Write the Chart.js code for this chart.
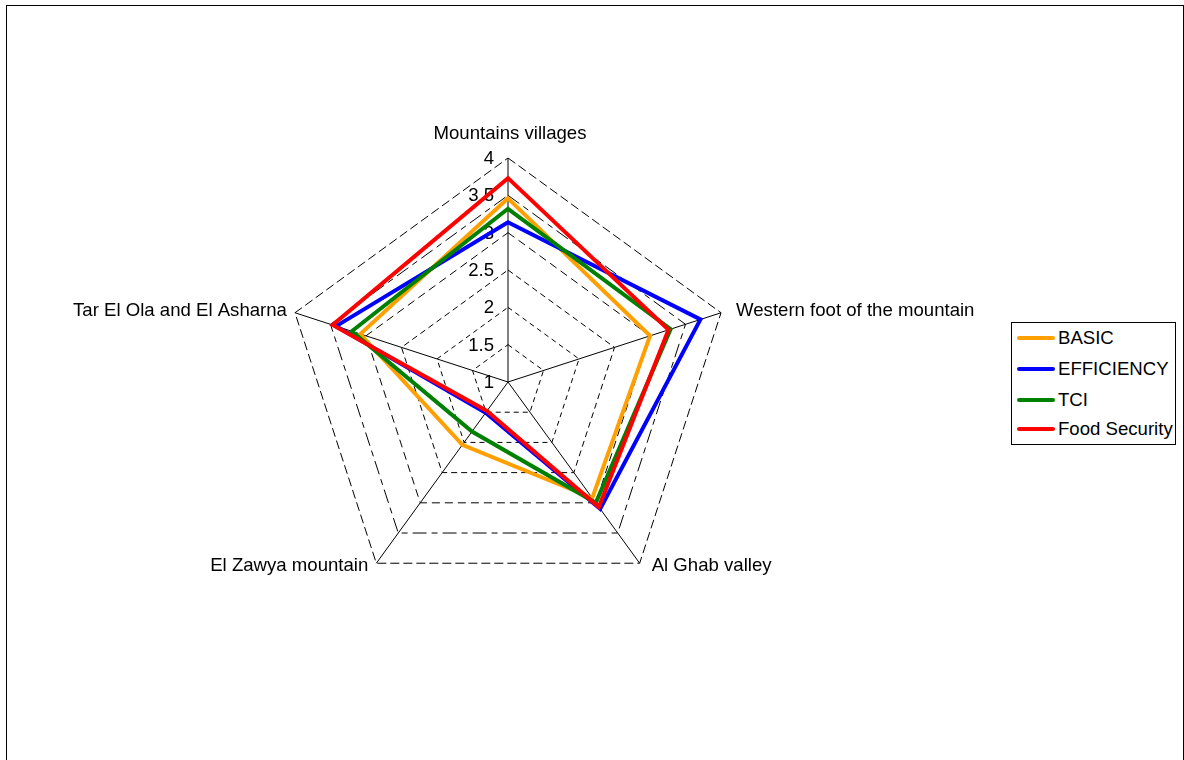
<!DOCTYPE html>
<html>
<head>
<meta charset="utf-8">
<script src="https://cdn.jsdelivr.net/npm/chart.js@4.4.1/dist/chart.umd.min.js"></script>
<style>
  html, body { margin: 0; padding: 0; background: #fff; width: 1184px; height: 760px; overflow: hidden; }
  #wrap { position: relative; width: 1184px; height: 760px; }
  #frame { position: absolute; left: 6px; top: 5px; width: 1176px; height: 800px; border: 1px solid #000; border-bottom: none; }
  #c { position: absolute; left: 0; top: 0; }
  #legend { position: absolute; left: 1011px; top: 322px; width: 163px; height: 121px; border: 1px solid #000; background: #fff;
            font-family: "Liberation Sans", Arial, sans-serif; font-size: 18.6px; color: #000; }
  .row { position: absolute; left: 5px; height: 22px; line-height: 22px; white-space: nowrap; }
  .sw { display: inline-block; width: 38px; height: 4px; border-radius: 2px; vertical-align: middle; margin-right: 3px; position: relative; top: -1px; }
</style>
</head>
<body>
<div id="wrap">
  <div id="frame"></div>
  <canvas id="c" width="1184" height="760"></canvas>
  <div id="legend"></div>
</div>
<script>
const categories = ["Mountains villages", "Western foot of the mountain", "Al Ghab valley", "El Zawya mountain", "Tar El Ola and El Asharna"];
const seriesNames = ["BASIC", "EFFICIENCY", "TCI", "Food Security"];
const basic = [3.46, 3.00, 2.92, 2.04, 3.08];
const efficiency = [3.14, 3.71, 3.10, 1.51, 3.42];
const tci = [3.32, 3.29, 3.00, 1.82, 3.20];
const foodSecurity = [3.73, 3.26, 3.07, 1.48, 3.47];
const tickLabels = ["1", "1.5", "2", "2.5", "3", "3.5", "4"];
const tickValues = [1, 1.5, 2, 2.5, 3, 3.5, 4];

const colors = ["#FFA000", "#0000FF", "#008000", "#FF0000"];
const seriesValues = [basic, efficiency, tci, foodSecurity];
const FONT = '18.6px "Liberation Sans", Arial, sans-serif';

const dashes = [[], [5, 4], [5, 4], [6, 4], [8, 5], [14, 5, 6, 5], [9, 4]];

const labelPlugin = {
  id: 'customLabels',
  beforeDatasetsDraw(chart) {
    const s = chart.scales.r;
    const ctx = chart.ctx;
    ctx.save();
    ctx.font = FONT;
    ctx.fillStyle = '#000';
    // tick labels
    ctx.textAlign = 'right';
    ctx.textBaseline = 'middle';
    tickValues.forEach((v, i) => {
      const d = s.getDistanceFromCenterForValue(v);
      const p = s.getPointPosition(0, d);
      ctx.fillText(tickLabels[i], p.x - 14, p.y + 1);
    });
    // point labels
    const R = s.getDistanceFromCenterForValue(4);
    const offs = [
      {dx: 2, dy: -24, align: 'center'},
      {dx: 15, dy: -2, align: 'left'},
      {dx: 12, dy: 3, align: 'left'},
      {dx: -8, dy: 3, align: 'right'},
      {dx: -8, dy: -2, align: 'right'}
    ];
    categories.forEach((c, i) => {
      const p = s.getPointPosition(i, R);
      ctx.textAlign = offs[i].align;
      ctx.fillText(c, p.x + offs[i].dx, p.y + offs[i].dy);
    });
    ctx.restore();
  }
};

const datasets = seriesNames.map((n, i) => ({
  label: n,
  data: seriesValues[i],
  borderColor: colors[i],
  backgroundColor: colors[i],
  borderWidth: 4,
  fill: false,
  pointRadius: 0,
  pointHoverRadius: 0,
  tension: 0,
  borderJoinStyle: 'miter',
  order: seriesNames.length - 1 - i
}));

new Chart(document.getElementById('c'), {
  type: 'radar',
  data: { labels: categories, datasets },
  options: {
    responsive: false,
    animation: false,
    devicePixelRatio: 1,
    layout: { padding: { left: 284, top: 158, right: 452, bottom: 154 } },
    plugins: { legend: { display: false }, tooltip: { enabled: false } },
    scales: {
      r: {
        min: 1,
        max: 4,
        beginAtZero: false,
        ticks: { stepSize: 0.5, display: false },
        pointLabels: { display: false },
        angleLines: { display: true, color: '#000', lineWidth: 1 },
        grid: {
          color: '#000',
          lineWidth: 1,
          borderDash: (ctx) => dashes[ctx.index] || [5, 4]
        },
        border: {
          dash: (ctx) => dashes[ctx.index] || [5, 4]
        }
      }
    }
  },
  plugins: [labelPlugin]
});

// legend
const lg = document.getElementById('legend');
const rowTops = [4, 35, 66, 95];
seriesNames.forEach((n, i) => {
  const r = document.createElement('div');
  r.className = 'row';
  r.style.top = rowTops[i] + 'px';
  r.innerHTML = '<span class="sw" style="background:' + colors[i] + '"></span>' + n;
  lg.appendChild(r);
});
</script>
</body>
</html>
